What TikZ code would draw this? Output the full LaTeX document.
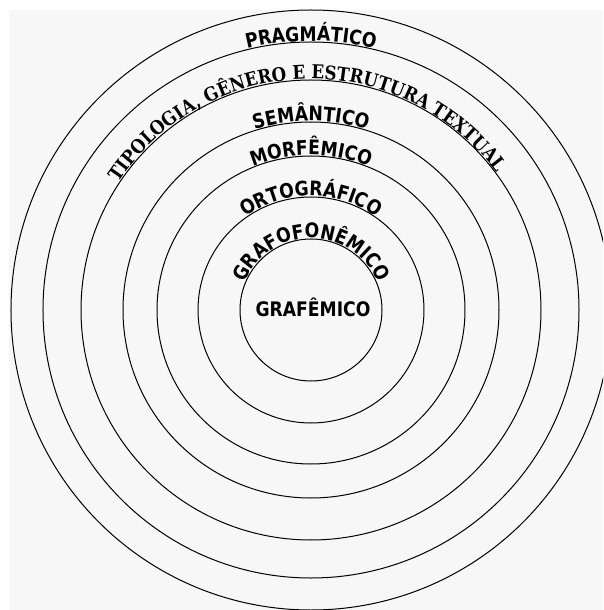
\documentclass[tikz,border=0pt]{standalone}
\usepackage{fontspec}
\setmainfont{DejaVu Sans}
\newfontfamily\levelfam{DejaVu Sans}[FakeStretch=0.86]
\newfontfamily\tipofont{DejaVu Serif}[FakeStretch=0.88]
\usetikzlibrary{decorations.text}
\definecolor{Paper}{HTML}{F7F7F7}
\newcommand{\levelfont}{\levelfam\fontsize{20}{24}\selectfont\bfseries}

\begin{document}
\begin{tikzpicture}[x=1pt,y=1pt]
  \tikzstyle{ring}=[draw=black,line width=1pt]
  \tikzstyle{arclabel}=[decorate,decoration={text along path,text align=center}]
  \useasboundingbox (-311,-300) rectangle (292,310);
  \fill[white] (-311,-300) rectangle (292,310);
  \fill[Paper] (-302,-300) rectangle (292,300);
  \coordinate (c) at (0,0);
  \begin{scope}
    \clip (-302,-300) rectangle (292,300);
    \foreach \r in {71,113,154,188,230,268,300}
      \draw[ring] (c) circle[radius=\r];
  \end{scope}
  \path[arclabel,decoration={text={|\levelfont|PRAGMÁTICO}}] (170:269) arc[start angle=170,end angle=10,radius=269];
  \path[arclabel,decoration={text={|\tipofont\fontsize{19}{22}\selectfont\bfseries|TIPOLOGIA, GÊNERO E ESTRUTURA TEXTUAL}}] (180:231) arc[start angle=180,end angle=3,radius=231];
  \path[arclabel,decoration={text={|\levelfont|SEMÂNTICO}}] (170:189) arc[start angle=170,end angle=10,radius=189];
  \path[arclabel,decoration={text={|\levelfont|MORFÊMICO}}] (170:155) arc[start angle=170,end angle=10,radius=155];
  \path[arclabel,decoration={text={|\levelfont|ORTOGRÁFICO}}] (175:114) arc[start angle=175,end angle=5,radius=114];
  \path[arclabel,decoration={text={|\levelfont|GRAFOFONÊMICO}}] (179:72) arc[start angle=179,end angle=1,radius=72];
  \node[font=\levelfont] (grafemico) at (2,3) {GRAFÊMICO};
\end{tikzpicture}
\end{document}
